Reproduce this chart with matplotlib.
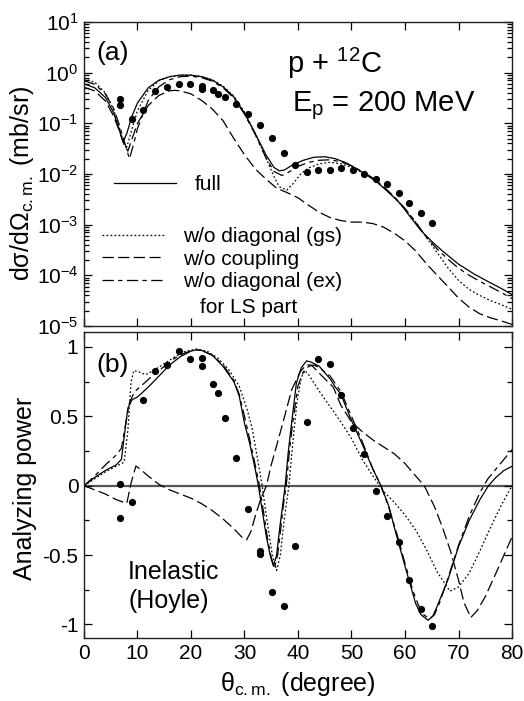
import numpy as np
import matplotlib
matplotlib.use("Agg")
import matplotlib.pyplot as plt
from matplotlib.ticker import MultipleLocator, LogLocator, NullFormatter

plt.rcParams["font.family"] = ["Liberation Sans", "DejaVu Sans"]
plt.rcParams["mathtext.fontset"] = "custom"
plt.rcParams["mathtext.rm"] = "Liberation Sans"
plt.rcParams["mathtext.it"] = "Liberation Sans:italic"
plt.rcParams["axes.unicode_minus"] = False

# ── (a) cross section, values read as log10(mb/sr) ───────────────────────────
exp_x = [6.7, 6.7, 8.9, 11.1, 13.3, 15.5, 17.8, 19.9, 22.0, 22.0, 24.2, 25.1,
         26.4, 28.5, 30.7, 32.9, 35.1, 37.3, 39.4, 41.6, 43.8, 46.0, 48.0,
         50.2, 52.3, 54.5, 56.6, 58.8, 60.8, 62.9, 65.1]
exp_xs = [0.30, 0.23, 0.123, 0.18, 0.43, 0.52, 0.60, 0.60, 0.55, 0.48, 0.45,
          0.37, 0.33, 0.24, 0.15, 0.094, 0.051, 0.026, 0.015, 0.011, 0.012,
          0.012, 0.013, 0.012, 0.0098, 0.0078, 0.0062, 0.0042, 0.0027,
          0.0017, 0.0011]

full_x = [0, 2, 4, 5.5, 6.5, 7.3, 8, 9, 10, 12, 14, 16, 18, 20, 22, 24, 26,
          28, 30, 32, 34, 35.5, 36.5, 37.5, 39, 41, 43, 45, 47, 49, 51, 53,
          55, 57, 59, 61, 63, 65, 67, 70, 73, 76, 78, 80]
full_log = [-0.22, -0.3, -0.49, -0.78, -1.1, -1.37, -1.2, -0.85, -0.6, -0.3,
            -0.15, -0.08, -0.05, -0.05, -0.08, -0.15, -0.28, -0.48, -0.8,
            -1.2, -1.62, -1.87, -1.94, -1.92, -1.82, -1.73, -1.67, -1.66,
            -1.7, -1.78, -1.9, -2.03, -2.18, -2.37, -2.57, -2.85, -3.12,
            -3.33, -3.52, -3.78, -3.98, -4.15, -4.26, -4.38]

gs_x = [0, 2, 4, 5.5, 6.5, 7.3, 8.0, 9, 10, 12, 14, 16, 18, 20, 22, 24, 26,
        28, 30, 32, 34, 35.5, 36.5, 37.9, 39, 40.5, 42, 44, 46, 48, 50, 52,
        54, 56, 58, 60, 62, 64, 66, 68, 70, 72, 74, 76, 78, 80]
gs_log = [-0.12, -0.19, -0.4, -0.72, -1.05, -1.35, -1.47, -1.1, -0.75,
          -0.35, -0.16, -0.08, -0.05, -0.05, -0.08, -0.14, -0.27, -0.46,
          -0.78, -1.2, -1.68, -2.05, -2.25, -2.32, -2.2, -2.0, -1.88, -1.8,
          -1.77, -1.8, -1.87, -1.97, -2.1, -2.27, -2.46, -2.7, -2.95, -3.25,
          -3.55, -3.85, -4.1, -4.28, -4.4, -4.5, -4.58, -4.67]

nc_x = [0, 2, 4, 5.5, 6.5, 7.5, 8.2, 9, 10, 12, 14, 16, 17, 18, 20, 22, 24,
        26, 28, 30, 32, 34, 36, 38, 40, 42, 44, 46, 48, 50, 52, 54, 56, 58,
        60, 62, 64, 66, 68, 70, 72, 74, 76, 78, 80]
nc_log = [-0.29, -0.36, -0.56, -0.85, -1.12, -1.42, -1.55, -1.3, -1.0,
          -0.65, -0.45, -0.36, -0.35, -0.36, -0.42, -0.55, -0.72, -0.95,
          -1.3, -1.62, -1.9, -2.1, -2.28, -2.37, -2.47, -2.62, -2.76, -2.86,
          -2.92, -2.95, -2.95, -2.98, -3.05, -3.17, -3.32, -3.52, -3.77,
          -4.0, -4.22, -4.45, -4.63, -4.76, -4.84, -4.9, -4.97]

ex_x = [0, 2, 4, 5.5, 6.5, 7.5, 8.5, 9.3, 10, 12, 14, 16, 18, 20, 22, 24,
        26, 28, 30, 32, 34, 35.5, 37, 38.5, 40, 42, 44, 46, 48, 50, 52, 54,
        56, 58, 60, 62, 64, 66, 68, 70, 72, 74, 76, 78, 80]
ex_log = [-0.16, -0.23, -0.42, -0.7, -1.0, -1.35, -1.7, -1.4, -1.1, -0.55,
          -0.28, -0.14, -0.08, -0.07, -0.1, -0.17, -0.3, -0.5, -0.82, -1.22,
          -1.68, -1.95, -2.03, -1.95, -1.85, -1.77, -1.73, -1.72, -1.76,
          -1.84, -1.95, -2.08, -2.25, -2.45, -2.68, -2.95, -3.25, -3.48,
          -3.68, -3.86, -4.0, -4.12, -4.23, -4.34, -4.46]

# ── (b) analyzing power ─────────────────────────────────────────────────────
exp_ay_x = [6.7, 6.7, 8.9, 11.1, 13.3, 15.5, 17.8, 19.9, 22.0, 22.0, 24.2,
            25.1, 26.4, 28.5, 30.7, 32.9, 32.9, 35.1, 37.3, 39.4, 41.6, 43.8,
            46.0, 48.0, 50.2, 52.3, 54.5, 56.6, 58.8, 60.8, 62.9, 65.1]
exp_ay = [0.012, -0.235, -0.12, 0.62, 0.83, 0.87, 0.97, 0.91, 0.92, 0.86,
          0.73, 0.67, 0.49, 0.20, -0.17, -0.47, -0.49, -0.765, -0.865,
          -0.435, 0.457, 0.913, 0.877, 0.654, 0.413, 0.23, -0.036, -0.216,
          -0.409, -0.68, -0.89, -1.01]

ay_full_x = [0, 2, 4, 6, 7, 7.6, 8.2, 9, 10, 12, 14, 16, 18, 20, 21, 22, 24,
             26, 28, 29, 30, 31, 32, 32.6, 33.4, 34.1, 34.8, 35.4, 36, 36.6,
             37.1, 37.6, 38.2, 38.8, 39.7, 40.6, 41.6, 42.5, 44, 46, 47, 48,
             50, 52, 53, 54, 55.5, 57, 58, 60, 62, 63, 64.3, 65.2, 66, 68,
             70, 72, 74, 75.6, 77, 78.5, 80]
ay_full = [0, 0.06, 0.11, 0.15, 0.19, 0.38, 0.56, 0.62, 0.64, 0.71, 0.79,
           0.87, 0.93, 0.97, 0.98, 0.975, 0.94, 0.86, 0.75, 0.65, 0.45, 0.3,
           0.12, 0, -0.2, -0.37, -0.5, -0.58, -0.5, -0.3, -0.15, 0, 0.25,
           0.45, 0.74, 0.85, 0.9, 0.89, 0.86, 0.77, 0.71, 0.66, 0.47, 0.3,
           0.21, 0.12, 0, -0.15, -0.3, -0.58, -0.85, -0.93, -0.97, -0.94,
           -0.87, -0.68, -0.44, -0.25, -0.1, 0, 0.06, 0.11, 0.14]

ay_gs_x = [0, 2, 4, 6, 7.5, 8.2, 8.8, 9.3, 10.3, 11.5, 13, 15, 17, 19, 21,
           23, 25, 27, 29, 30.5, 31.5, 32.5, 33.3, 34.2, 35.2, 36, 36.7,
           37.4, 38.3, 39, 39.8, 40.6, 41.3, 42, 43, 44, 46, 48, 50, 52, 54,
           56, 58, 60, 62, 64, 66, 68.4, 70, 72, 74, 76, 78, 80]
ay_gs = [0, 0.05, 0.1, 0.14, 0.17, 0.4, 0.75, 0.83, 0.82, 0.8, 0.83, 0.88,
         0.93, 0.97, 0.985, 0.97, 0.92, 0.84, 0.72, 0.55, 0.4, 0.18, 0,
         -0.25, -0.5, -0.61, -0.5, -0.25, 0, 0.3, 0.6, 0.78, 0.83, 0.8,
         0.74, 0.68, 0.57, 0.46, 0.34, 0.19, 0.07, -0.04, -0.12, -0.21,
         -0.32, -0.46, -0.62, -0.76, -0.73, -0.63, -0.47, -0.3, -0.14, 0.0]

ay_nc_x = [0, 2, 4, 6, 8, 8.8, 9.7, 10.5, 12, 14, 16, 18, 20, 22, 24, 26,
           28, 29.5, 30.4, 31.2, 32, 33, 34.1, 35, 36.3, 37.5, 38.8, 40.4,
           41.5, 42.5, 44, 46.6, 48, 50, 52, 54, 56, 58, 60, 62, 63.6, 65.5,
           67, 68.5, 70, 71, 72.3, 73.5, 75, 77, 80]
ay_nc = [0, -0.03, -0.06, -0.1, -0.127, 0.02, 0.142, 0.12, 0.07, 0.01,
         -0.03, -0.06, -0.09, -0.13, -0.18, -0.24, -0.31, -0.37, -0.39,
         -0.33, -0.22, -0.1, 0, 0.15, 0.33, 0.5, 0.69, 0.82, 0.87, 0.87,
         0.81, 0.71, 0.58, 0.46, 0.39, 0.33, 0.28, 0.23, 0.16, 0.07, 0,
         -0.15, -0.3, -0.47, -0.68, -0.84, -0.95, -0.9, -0.8, -0.63, -0.37]

ay_ex_x = [0, 2, 4, 6, 7, 7.8, 8.5, 9.5, 11, 13, 15, 17, 19, 21, 22, 24, 26,
           28, 29, 30, 31, 32, 32.8, 33.6, 34.3, 35, 35.6, 36.2, 36.8, 37.3,
           37.8, 38.4, 39, 40, 41, 42, 43, 44, 46, 48, 50, 52, 54, 55.5, 57,
           58.5, 60, 61.5, 62.5, 63.5, 64.6, 65.5, 66.5, 68, 70, 72, 74,
           75.5, 77, 78.5, 80]
ay_ex = [0, 0.07, 0.15, 0.22, 0.27, 0.45, 0.6, 0.68, 0.73, 0.8, 0.86, 0.92,
         0.96, 0.98, 0.975, 0.94, 0.87, 0.76, 0.66, 0.5, 0.33, 0.15, 0,
         -0.2, -0.38, -0.52, -0.59, -0.5, -0.3, -0.13, 0, 0.25, 0.45, 0.72,
         0.82, 0.86, 0.87, 0.85, 0.79, 0.68, 0.5, 0.32, 0.12, 0, -0.16,
         -0.35, -0.56, -0.76, -0.86, -0.93, -0.96, -0.93, -0.84, -0.67,
         -0.43, -0.22, -0.05, 0.05, 0.12, 0.19, 0.26]

LW = 0.9
styles = {
    "full": dict(color="black", lw=LW, linestyle="-"),
    "gs":   dict(color="black", lw=LW, dashes=(1.4, 1.8)),
    "nc":   dict(color="black", lw=LW, dashes=(9, 3.5)),
    "ex":   dict(color="black", lw=LW, dashes=(9, 3.5, 3.5, 3.5)),
}

fig = plt.figure(figsize=(5.24, 7.01), dpi=100)
ax1 = fig.add_axes([0.1603, 0.5350, 0.8168, 0.4337])
ax2 = fig.add_axes([0.1603, 0.0894, 0.8168, 0.4370])

# ── top panel ───────────────────────────────────────────────────────────────
l_full, = ax1.plot(full_x, 10 ** np.array(full_log), label="full", **styles["full"])
l_gs, = ax1.plot(gs_x, 10 ** np.array(gs_log), label="w/o diagonal (gs)", **styles["gs"])
l_nc, = ax1.plot(nc_x, 10 ** np.array(nc_log), label="w/o coupling", **styles["nc"])
l_ex, = ax1.plot(ex_x, 10 ** np.array(ex_log), label="w/o diagonal (ex)", **styles["ex"])
ax1.plot(exp_x, exp_xs, "o", color="black", ms=5.2, mec="none")

ax1.set_yscale("log")
ax1.set_xlim(0, 80)
ax1.set_ylim(1e-5, 1e1)
ax1.yaxis.set_major_locator(LogLocator(base=10, numticks=10))
ax1.yaxis.set_minor_locator(LogLocator(base=10, subs=np.arange(2, 10), numticks=10))
ax1.yaxis.set_minor_formatter(NullFormatter())
ax1.xaxis.set_major_locator(MultipleLocator(10))
ax1.tick_params(labelbottom=False)
ax1.set_ylabel(r"dσ/dΩ$_{\rm c{.}m{.}}$ (mb/sr)", fontsize=18)
ax1.yaxis.set_label_coords(-0.112, 0.47)

leg1 = ax1.legend(handles=[l_full], loc="center left", bbox_to_anchor=(0.07, 0.464),
                  frameon=False, fontsize=15, handlelength=3.0, handletextpad=0.9,
                  borderpad=0, borderaxespad=0)
ax1.add_artist(leg1)
ax1.legend(handles=[l_gs, l_nc, l_ex], loc="center left", bbox_to_anchor=(0.042, 0.22),
           frameon=False, fontsize=15, handlelength=3.0, handletextpad=0.9,
           labelspacing=0.18, borderpad=0, borderaxespad=0)
ax1.text(0.271, 0.062, "for LS part", transform=ax1.transAxes, fontsize=15,
         ha="left", va="center")

ax1.text(0.03, 0.898, "(a)", transform=ax1.transAxes, fontsize=19, va="center")
ax1.text(0.475, 0.862, r"p + $^{12}$C", transform=ax1.transAxes, fontsize=21, va="center")
ax1.text(0.485, 0.725, r"E$_{\rm p}$ = 200 MeV", transform=ax1.transAxes, fontsize=21,
         va="center")

# ── bottom panel ────────────────────────────────────────────────────────────
ax2.axhline(0, color="#555555", lw=1.6, zorder=1)
ax2.plot(ay_full_x, ay_full, **styles["full"])
ax2.plot(ay_gs_x, ay_gs, **styles["gs"])
ax2.plot(ay_nc_x, ay_nc, **styles["nc"])
ax2.plot(ay_ex_x, ay_ex, **styles["ex"])
ax2.plot(exp_ay_x, exp_ay, "o", color="black", ms=5.2, mec="none")

ax2.set_xlim(0, 80)
ax2.set_ylim(-1.1, 1.108)
ax2.xaxis.set_major_locator(MultipleLocator(10))
ax2.yaxis.set_minor_locator(MultipleLocator(0.25))
ax2.set_yticks([-1, -0.5, 0, 0.5, 1])
ax2.set_yticklabels(["-1", "-0.5", "0", "0.5", "1"])
ax2.set_ylabel("Analyzing power", fontsize=18)
ax2.yaxis.set_label_coords(-0.11, 0.49)
ax2.set_xlabel(r"θ$_{\rm c{.}m{.}}$ (degree)", fontsize=18, labelpad=5)
ax2.text(0.03, 0.892, "(b)", transform=ax2.transAxes, fontsize=19, va="center")
ax2.text(0.103, 0.17, "Inelastic\n(Hoyle)", transform=ax2.transAxes, fontsize=18,
         va="center", linespacing=1.25)

for ax in (ax1, ax2):
    ax.tick_params(which="both", direction="in", top=True, right=True, labelsize=15,
                   width=0.9, pad=4)
    ax.tick_params(which="major", length=6)
    ax.tick_params(which="minor", length=3.5)
    for s in ax.spines.values():
        s.set_linewidth(1.0)
        s.set_color("#222222")

fig.savefig("out.png", dpi=100)
plt.close(fig)
